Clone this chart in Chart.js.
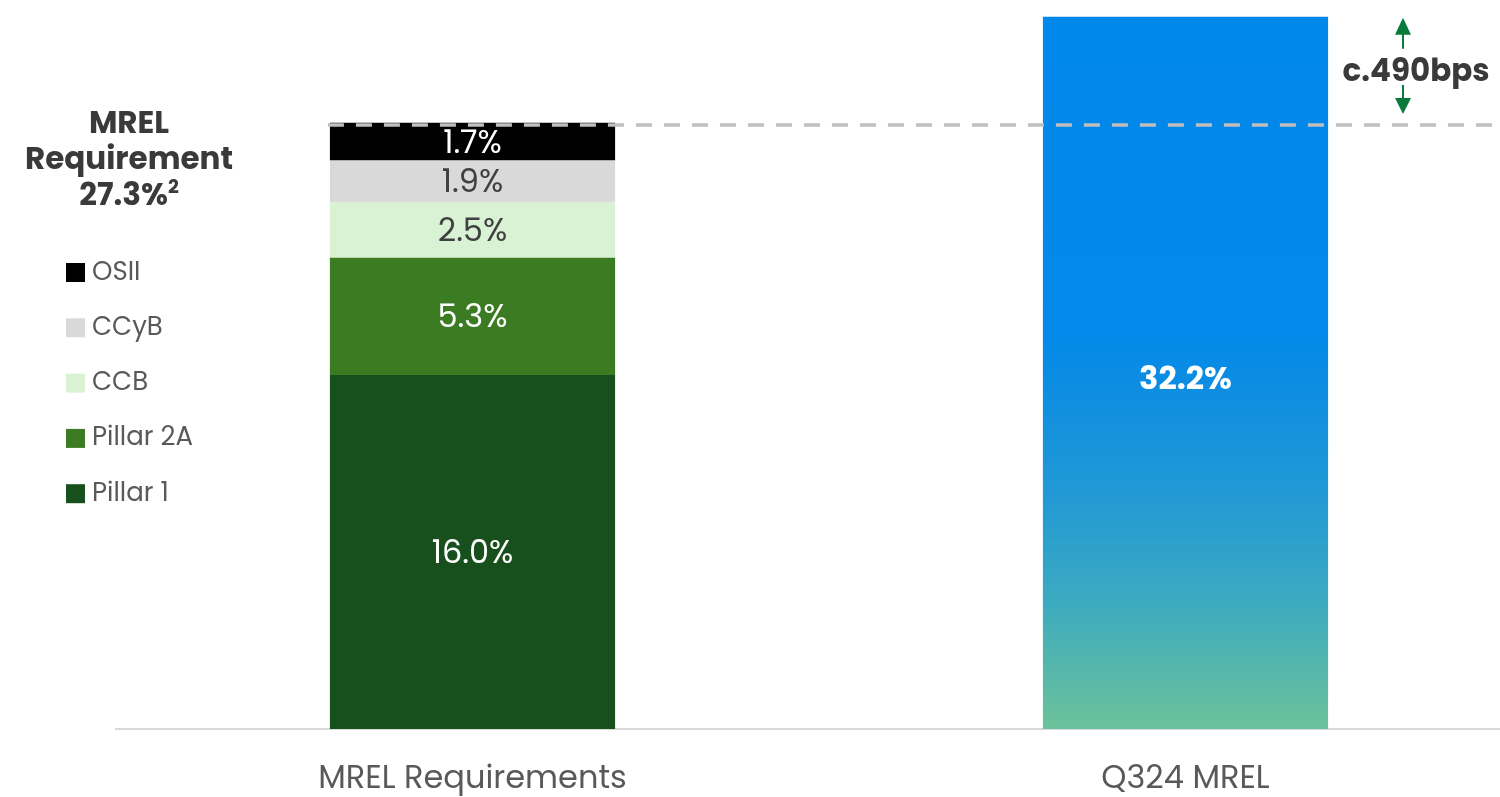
<!DOCTYPE html>
<html>
<head>
<meta charset="utf-8">
<title>MREL</title>
<script src="https://cdn.jsdelivr.net/npm/chart.js@4.4.1/dist/chart.umd.min.js"></script>
<style>
	html, body { margin: 0; padding: 0; background: #fff; overflow: hidden; }
	#wrap { width: 1500px; height: 797px; overflow: hidden; }
</style>
</head>
<body>
<div id="wrap">
	<canvas id="graph_mrel" width="1542" height="797"></canvas>
</div>
<script>
// categories and values (%)
const categories = ["MREL Requirements", "Q324 MREL"];
const layerNames = ["Pillar 1", "Pillar 2A", "CCB", "CCyB", "OSII"];
const layerValues = [16.0, 5.3, 2.5, 1.9, 1.7];
const layerColors = ["#17501d", "#3b7b22", "#d9f2d4", "#d9d9d9", "#000000"];
const layerLabelColors = ["#ffffff", "#ffffff", "#404040", "#404040", "#ffffff"];
const currentMrel = 32.2;
const requirement = 27.3;
const headroomText = "c.490bps";

const FONT = "Poppins, 'Open Sans', sans-serif";
const GREEN = "#0a7a3c";

// stacked layers in the first column only
const datasets = layerNames.map(function(name, i) {
	return {
		label: name,
		data: [layerValues[i], null],
		backgroundColor: layerColors[i],
		labelColor: layerLabelColors[i],
		stack: "s"
	};
});

// blue-to-green gradient for the Q324 column
datasets.push({
	label: "Q324 MREL",
	data: [null, currentMrel],
	stack: "s",
	labelColor: "#ffffff",
	labelBold: true,
	labelShift: 5,
	backgroundColor: function(context) {
		const chart = context.chart;
		const area = chart.chartArea;
		if (!area) return "#0088ea";
		const y = chart.scales.y;
		const g = chart.ctx.createLinearGradient(0, y.getPixelForValue(currentMrel), 0, y.getPixelForValue(0));
		g.addColorStop(0, "#0088ea");
		g.addColorStop(0.45, "#0389e9");
		g.addColorStop(0.54, "#108fe0");
		g.addColorStop(0.68, "#239ad4");
		g.addColorStop(0.82, "#3caac0");
		g.addColorStop(1, "#6cc29b");
		return g;
	}
});

// value labels in the middle of each segment
const valueLabels = {
	id: "valueLabels",
	afterDatasetsDraw(chart) {
		const ctx = chart.ctx;
		ctx.save();
		ctx.textAlign = "center";
		ctx.textBaseline = "middle";
		chart.data.datasets.forEach(function(ds, di) {
			chart.getDatasetMeta(di).data.forEach(function(bar, i) {
				const v = ds.data[i];
				if (v == null) return;
				const p = bar.getProps(["x", "y", "base"], true);
				ctx.fillStyle = ds.labelColor;
				ctx.font = (ds.labelBold ? "bold " : "") + "32px " + FONT;
				ctx.fillText(v.toFixed(1) + "%", p.x, (p.y + p.base) / 2 + 3 + (ds.labelShift || 0));
			});
		});
		ctx.restore();
	}
};

// dashed requirement line, headroom arrows, side title and legend
const extras = {
	id: "extras",
	afterDraw(chart) {
		const ctx = chart.ctx;
		const y = chart.scales.y;
		const area = chart.chartArea;
		const firstBar = chart.getDatasetMeta(layerNames.length - 1).data[0];
		const reqY = y.getPixelForValue(requirement);
		const topY = y.getPixelForValue(currentMrel);

		ctx.save();
		ctx.strokeStyle = "#bfbfbf";
		ctx.lineWidth = 3.5;
		ctx.setLineDash([16, 12]);
		ctx.beginPath();
		ctx.moveTo(firstBar.x - firstBar.width / 2 - 2, reqY);
		ctx.lineTo(area.right, reqY);
		ctx.stroke();
		ctx.setLineDash([]);

		// headroom arrows
		const ax = 1403;
		ctx.strokeStyle = GREEN;
		ctx.fillStyle = GREEN;
		ctx.lineWidth = 2;
		ctx.beginPath();
		ctx.moveTo(ax, topY + 14);
		ctx.lineTo(ax, topY + 32);
		ctx.moveTo(ax, reqY - 40);
		ctx.lineTo(ax, reqY - 24);
		ctx.stroke();
		ctx.beginPath();
		ctx.moveTo(ax, topY + 1);
		ctx.lineTo(ax - 8, topY + 18);
		ctx.lineTo(ax + 8, topY + 18);
		ctx.closePath();
		ctx.fill();
		ctx.beginPath();
		ctx.moveTo(ax, reqY - 11);
		ctx.lineTo(ax - 8, reqY - 27);
		ctx.lineTo(ax + 8, reqY - 27);
		ctx.closePath();
		ctx.fill();

		ctx.fillStyle = "#3a3a3a";
		ctx.font = "bold 31px " + FONT;
		ctx.textAlign = "center";
		ctx.textBaseline = "middle";
		ctx.fillText(headroomText, 1416, (topY + reqY) / 2 + 2);

		// side title
		const tx = 129;
		ctx.font = "bold 31px " + FONT;
		ctx.fillText("MREL", tx, 125);
		ctx.fillText("Requirement", tx, 161);
		const pct = requirement.toFixed(1) + "%";
		const w = ctx.measureText(pct).width;
		ctx.font = "bold 19px " + FONT;
		const sw = ctx.measureText("2").width;
		ctx.textAlign = "left";
		ctx.font = "bold 31px " + FONT;
		ctx.fillText(pct, tx - (w + sw) / 2, 197);
		ctx.font = "bold 19px " + FONT;
		ctx.fillText("2", tx - (w + sw) / 2 + w, 188);

		// legend, top layer first
		ctx.font = "26px " + FONT;
		ctx.textAlign = "left";
		for (let i = layerNames.length - 1, row = 0; i >= 0; i--, row++) {
			const ly = 272 + row * 55.3;
			ctx.fillStyle = layerColors[i];
			ctx.fillRect(66, ly - 9, 19, 19);
			ctx.fillStyle = "#595959";
			ctx.fillText(layerNames[i], 92, ly + 1);
		}
		ctx.restore();
	}
};

const ctx = document.getElementById("graph_mrel").getContext("2d");
const mrelChart = new Chart(ctx, {
	type: "bar",
	data: {
		labels: categories,
		datasets: datasets
	},
	options: {
		responsive: false,
		animation: false,
		layout: {
			padding: { left: 116, right: 0, top: 10, bottom: 0 }
		},
		datasets: {
			bar: {
				categoryPercentage: 0.4,
				barPercentage: 1.0,
				borderWidth: 0
			}
		},
		scales: {
			x: {
				stacked: true,
				grid: { drawOnChartArea: false, drawTicks: false },
				border: { display: true, color: "#d9d9d9", width: 2 },
				ticks: {
					padding: 32,
					color: "#595959",
					font: { family: FONT, size: 32 }
				},
				afterFit: function(scale) {
					scale.height = 68;
				}
			},
			y: {
				stacked: true,
				display: false,
				min: 0,
				max: 32.5
			}
		},
		plugins: {
			legend: { display: false },
			tooltip: { enabled: false }
		}
	},
	plugins: [valueLabels, extras]
});
</script>
</body>
</html>
